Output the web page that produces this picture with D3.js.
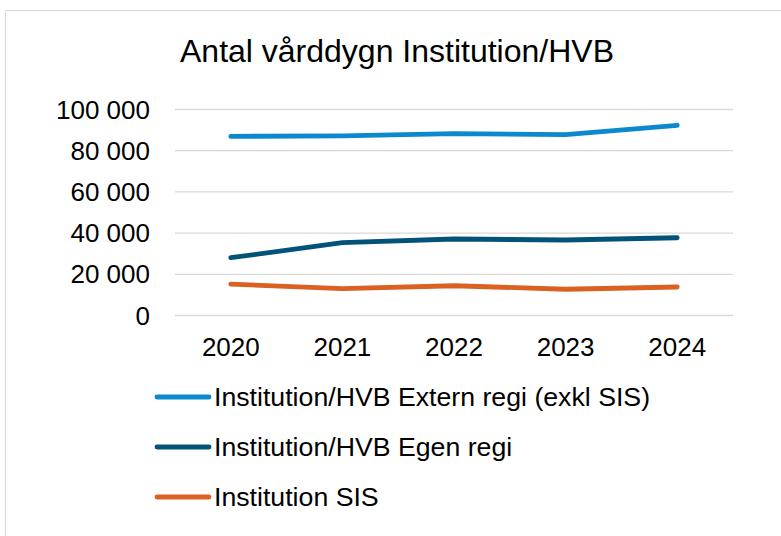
<!DOCTYPE html>
<html>
<head>
<meta charset="utf-8">
<script src="https://cdn.jsdelivr.net/npm/d3@7"></script>
<style>
  body { margin: 0; background: #fff; }
  text { font-family: "Liberation Sans", Arial, sans-serif; fill: #000; }
</style>
</head>
<body>
<div id="target"></div>
<script>
let years = ["2020", "2021", "2022", "2023", "2024"];
let externRegi = [86700, 87000, 88000, 87600, 92100];
let egenRegi = [27800, 35100, 36900, 36400, 37500];
let sisValues = [15000, 12800, 14200, 12500, 13600];
let seriesNames = [
  "Institution/HVB Extern regi (exkl SIS)",
  "Institution/HVB Egen regi",
  "Institution SIS"
];
let seriesColors = ["#0A89CF", "#025279", "#DA6121"];
let yTicks = [0, 20000, 40000, 60000, 80000, 100000];

let width = 781,
  height = 536;

let series = [externRegi, egenRegi, sisValues].map((vals, i) => {
  return { name: seriesNames[i], color: seriesColors[i], values: vals };
});

let svg = d3.select("#target").append("svg")
  .attr("width", width)
  .attr("height", height);

// chart frame
svg.append("rect")
  .attr("x", 5.5)
  .attr("y", 10.5)
  .attr("width", 800)
  .attr("height", 560)
  .attr("fill", "#fff")
  .attr("stroke", "#d9d9d9");

svg.append("text")
  .attr("x", 397)
  .attr("y", 62)
  .attr("text-anchor", "middle")
  .style("font-size", "32px")
  .text("Antal vårddygn Institution/HVB");

let x = d3.scaleBand()
  .domain(years)
  .range([175, 733]);

let y = d3.scaleLinear()
  .domain([0, 100000])
  .range([315, 109]);

let fmt = (d) => d3.format(",")(d).replace(/,/g, " ");

// gridlines
svg.append("g")
  .selectAll("line")
  .data(yTicks)
  .enter()
  .append("line")
  .attr("x1", 175)
  .attr("x2", 733)
  .attr("y1", (d) => y(d) + 0.5)
  .attr("y2", (d) => y(d) + 0.5)
  .attr("stroke", "#d9d9d9")
  .attr("stroke-width", 1.3);

let yAxis = svg.append("g")
  .attr("transform", "translate(150,0)")
  .call(d3.axisLeft(y).tickValues(yTicks).tickFormat(fmt).tickSize(0).tickPadding(0));
yAxis.select(".domain").remove();
yAxis.selectAll("text")
  .style("font-size", "26px")
  .style("font-family", "Liberation Sans, Arial, sans-serif")
  .attr("dy", "0.35em");

let xAxis = svg.append("g")
  .attr("transform", "translate(0,336)")
  .call(d3.axisBottom(x).tickSize(0).tickPadding(0));
xAxis.select(".domain").remove();
xAxis.selectAll("text")
  .style("font-size", "26px")
  .style("font-family", "Liberation Sans, Arial, sans-serif")
  .attr("dy", "0.75em");

let line = d3.line()
  .x((d, i) => x(years[i]) + x.bandwidth() / 2)
  .y((d) => y(d));

svg.append("g")
  .selectAll("path")
  .data(series)
  .enter()
  .append("path")
  .attr("d", (d) => line(d.values))
  .attr("fill", "none")
  .attr("stroke", (d) => d.color)
  .attr("stroke-width", 4.8)
  .attr("stroke-linecap", "round")
  .attr("stroke-linejoin", "round");

// legend
let legend = svg.append("g")
  .selectAll("g")
  .data(series)
  .enter()
  .append("g")
  .attr("transform", (d, i) => "translate(0," + (397 + i * 50) + ")");

legend.append("line")
  .attr("x1", 157)
  .attr("x2", 209)
  .attr("stroke", (d) => d.color)
  .attr("stroke-width", 4.8)
  .attr("stroke-linecap", "round");

legend.append("text")
  .attr("x", 214)
  .attr("dy", "0.33em")
  .style("font-size", "26.7px")
  .text((d) => d.name);
</script>
</body>
</html>
